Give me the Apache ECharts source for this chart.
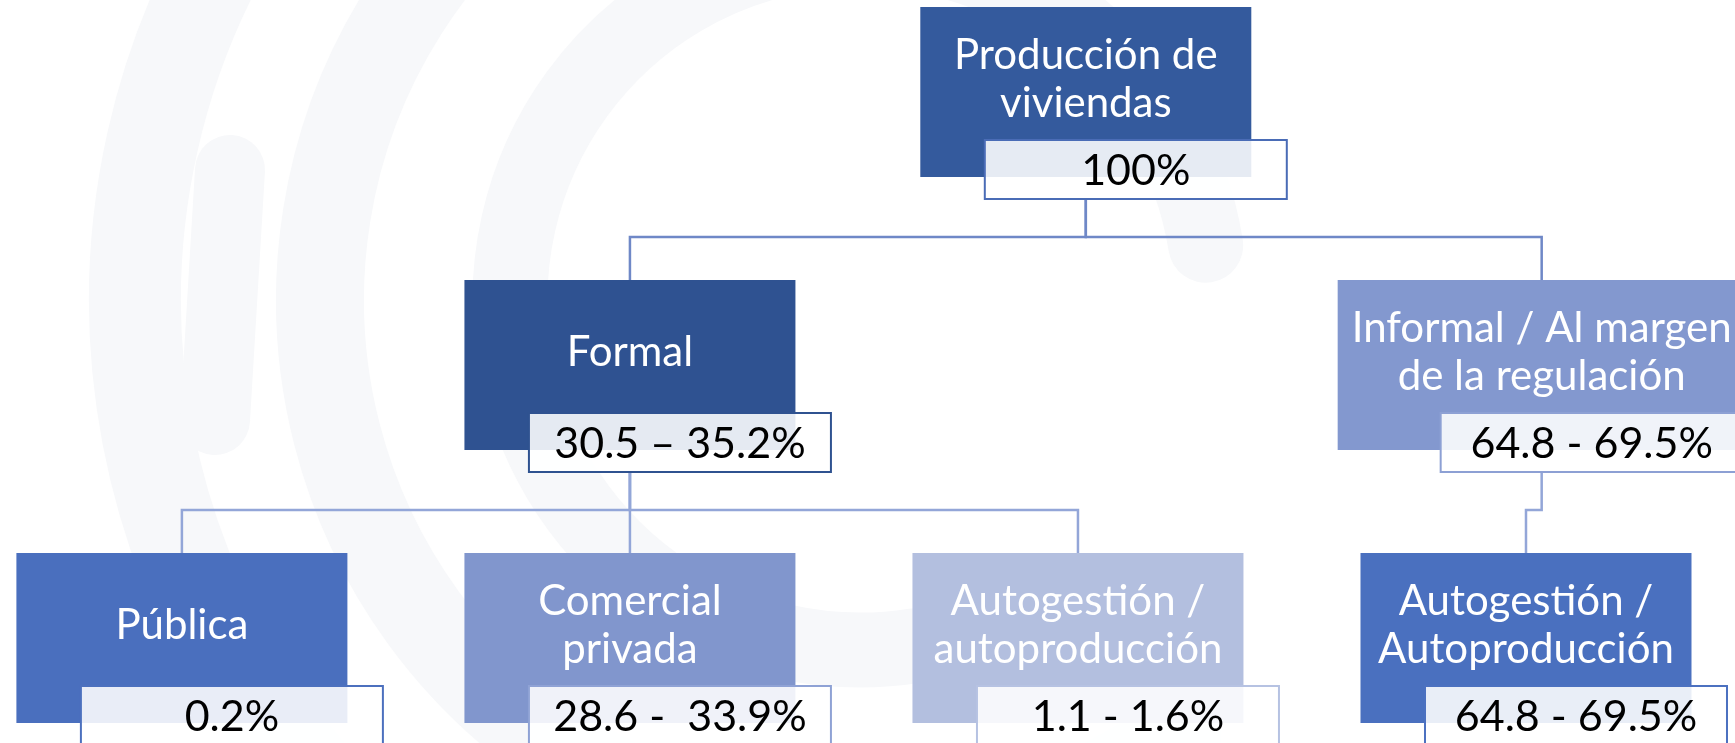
<!DOCTYPE html>
<html>
<head>
<meta charset="utf-8">
<script src="https://cdn.jsdelivr.net/npm/echarts@6/dist/echarts.min.js"></script>
<style>
  html, body { margin: 0; padding: 0; background: #ffffff; }
  #chart { width: 1735px; height: 743px; }
</style>
</head>
<body>
<div id="chart"></div>
<script>
// ---- data ----
const nodeNames = [
  'Producción de\nviviendas',
  'Formal',
  'Informal / Al margen\nde la regulación',
  'Pública',
  'Comercial\nprivada',
  'Autogestión /\nautoproducción',
  'Autogestión /\nAutoproducción'
];
const nodeShares = [
  '100%',
  '30.5 – 35.2%',
  '64.8 - 69.5%',
  '0.2%',
  '28.6 -  33.9%',
  '1.1 - 1.6%',
  '64.8 - 69.5%'
];
const nodeParents = [-1, 0, 0, 1, 1, 1, 2];

// ---- layout (tree: leaves in slots, parents centred over children) ----
const n = nodeNames.length;
const children = nodeNames.map(() => []);
nodeParents.forEach((p, i) => { if (p >= 0) children[p].push(i); });
const level = new Array(n).fill(0);
const col = new Array(n).fill(0);
function depth(i) { return nodeParents[i] < 0 ? 0 : depth(nodeParents[i]) + 1; }
for (let i = 0; i < n; i++) level[i] = depth(i);
let slot = 0;
const colShift = { 2: 0.035 }; // informal branch sits slightly right of its child
function place(i) {
  if (children[i].length === 0) { col[i] = slot++; }
  else {
    children[i].forEach(place);
    col[i] = children[i].reduce((s, c) => s + col[c], 0) / children[i].length;
  }
  if (colShift[i]) col[i] += colShift[i];
}
place(0);

// ---- styles ----
const boxColor = ['#345A9D', '#2F5291', '#8398CF', '#4A6FBE', '#8196CD', '#B3BFDF', '#4A70BF'];
const labelBorder = ['#4A6CB6', '#2F5290', '#8DA0D4', '#4C70BE', '#8FA2D5', '#B6C2E2', '#4C71C0'];
const boxWidth = { 2: 408 };
const TITLE_FONT = '42px Lato, "Open Sans", sans-serif';
const LABEL_FONT = '43px Lato, "Open Sans", sans-serif';

const nodeData = nodeNames.map((_, i) => [col[i], level[i], i]);
const edgeData = [];
nodeParents.forEach((p, i) => { if (p >= 0) edgeData.push([col[p], level[p], col[i], level[i], i]); });

const chart = echarts.init(document.getElementById('chart'), null, { renderer: 'canvas' });

// faint watermark rings
const ringColor = '#F7F8FA';
const wm = [
  { r: 350, a0: 0.45, a1: 1.95, w: 75 },
  { r: 540, a0: 0.30, a1: 1.62, w: 88 },
  { r: 725, a0: 0.32, a1: 1.58, w: 92 }
].map(d => ({
  type: 'arc',
  silent: true,
  z: -10,
  shape: { cx: 860, cy: 300, r: d.r, startAngle: Math.PI * d.a0, endAngle: Math.PI * d.a1, clockwise: true },
  style: { stroke: ringColor, lineWidth: d.w, fill: null, lineCap: 'round' }
}));
wm.push({
  type: 'line', silent: true, z: -10,
  shape: { x1: 230, y1: 170, x2: 215, y2: 420 },
  style: { stroke: ringColor, lineWidth: 70, lineCap: 'round' }
});

chart.setOption({
  backgroundColor: '#ffffff',
  animation: false,
  graphic: { elements: wm },
  grid: { left: 0, right: 0, top: 0, bottom: 0 },
  xAxis: { type: 'value', min: -0.406, max: 3.4665, show: false },
  yAxis: { type: 'value', min: -0.0256, max: 2.696, inverse: true, show: false },
  series: [
    {
      type: 'custom',
      silent: true,
      clip: false,
      z: 2,
      encode: { x: [0, 2], y: [1, 3] },
      data: edgeData,
      renderItem: function (params, api) {
        const p = api.coord([api.value(0), api.value(1)]);
        const c = api.coord([api.value(2), api.value(3)]);
        const midY = p[1] + 230;
        const upper = api.value(1) === 0;
        return {
          type: 'polyline',
          shape: { points: [[p[0], p[1] + 192], [p[0], midY], [c[0], midY], [c[0], c[1]]] },
          style: { stroke: upper ? '#6F88C7' : '#93A6D8', lineWidth: 2.5, fill: null }
        };
      }
    },
    {
      type: 'custom',
      silent: true,
      clip: false,
      z: 3,
      encode: { x: 0, y: 1 },
      data: nodeData,
      renderItem: function (params, api) {
        const i = api.value(2);
        const p = api.coord([api.value(0), api.value(1)]);
        const cx = p[0], top = p[1];
        const w = boxWidth[i] || 331;
        return {
          type: 'group',
          children: [
            { type: 'rect', shape: { x: cx - w / 2, y: top, width: w, height: 170 },
              style: { fill: boxColor[i] } },
            { type: 'text', style: {
                text: nodeNames[i], x: cx, y: top + 72,
                align: 'center', verticalAlign: 'middle',
                font: TITLE_FONT, lineHeight: 48, fill: '#ffffff' } },
            { type: 'rect', shape: { x: cx - 101, y: top + 133, width: 302, height: 59 },
              style: { fill: 'rgba(255,255,255,0.88)', stroke: labelBorder[i], lineWidth: 2 } },
            { type: 'text', style: {
                text: nodeShares[i], x: cx + 50, y: top + 164,
                align: 'center', verticalAlign: 'middle',
                font: LABEL_FONT, fill: '#000000' } }
          ]
        };
      }
    }
  ]
});
</script>
</body>
</html>
